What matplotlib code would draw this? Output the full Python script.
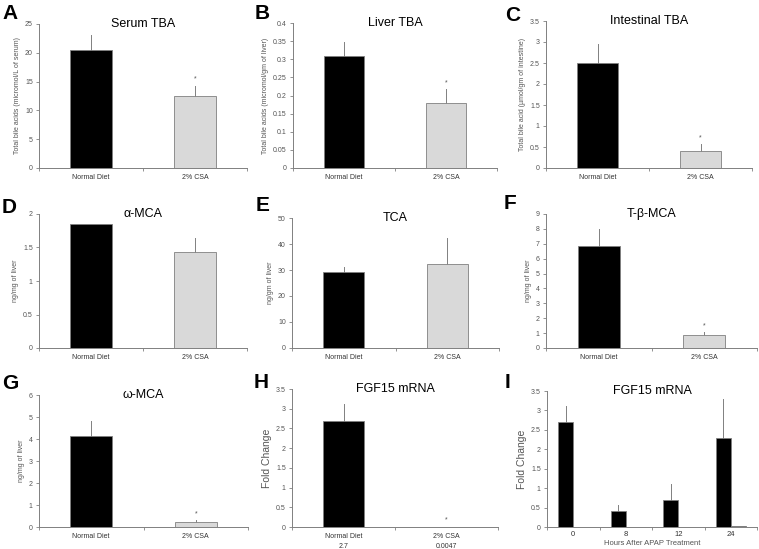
import matplotlib
matplotlib.use('Agg')
import matplotlib.pyplot as plt
import numpy as np

plt.rcParams['font.family'] = ['Liberation Sans', 'DejaVu Sans']

W, H = 759, 549
fig = plt.figure(figsize=(W / 100, H / 100), dpi=100)

groups = ['Normal Diet', '2% CSA']

serum_tba = [20.5, 12.5]
serum_err = [2.6, 1.8]
liver_tba = [0.31, 0.18]
liver_err = [0.037, 0.037]
intest_tba = [2.5, 0.4]
intest_err = [0.45, 0.16]
alpha_mca = [1.85, 1.44]
alpha_err = [0.0, 0.2]
tca = [29.2, 32.5]
tca_err = [1.8, 10.0]
tbeta_mca = [6.85, 0.9]
tbeta_err = [1.15, 0.2]
omega_mca = [4.12, 0.25]
omega_err = [0.68, 0.07]
fgf15 = [2.7, 0.0047]
fgf15_err = [0.41, 0.005]
fgf15_sub = ['2.7', '0.0047']

hours = ['0', '8', '12', '24']
fgf15_time = [2.7, 0.4, 0.7, 2.3]
fgf15_time_err = [0.42, 0.16, 0.4, 1.0]
fgf15_time_b = [0.01, 0.01, 0.01, 0.02]
fgf15_time_b_err = [0.0, 0.0, 0.0, 0.01]

BLACK = '#000000'
LIGHT = '#d9d9d9'
EDGE = '#808080'
TXT = '#555555'


def px_axes(l, r, t, b):
    return fig.add_axes([l / W, 1 - b / H, (r - l) / W, (b - t) / H])


def style(ax, ncat, ylim, yticks, fmt='%g'):
    ax.set_xlim(0, ncat)
    ax.set_ylim(*ylim)
    for s in ['top', 'right']:
        ax.spines[s].set_visible(False)
    for s in ['left', 'bottom']:
        ax.spines[s].set_color(EDGE)
        ax.spines[s].set_linewidth(0.7)
    ax.set_yticks(yticks)
    ax.set_yticklabels([fmt % v for v in yticks], fontsize=5, color=TXT)
    ax.set_xticks(np.arange(ncat + 1))
    ax.set_xticklabels([])
    ax.tick_params(axis='both', which='major', length=2.5, width=0.6, color=EDGE, pad=2)
    ax.set_xticks(np.arange(ncat) + 0.5, minor=True)
    ax.tick_params(axis='x', which='minor', length=0, pad=4)


def letter(x, y, s):
    fig.text(x / W, 1 - y / H, s, fontsize=15, fontweight='bold', ha='left', va='top')


def two_bar_panel(box, let, lxy, title, vals, errs, stars, ylim, yticks, ylabel,
                  ylfs=5, sub=None):
    ax = px_axes(*box)
    x = np.arange(len(vals)) + 0.5
    ax.bar(x, vals, width=0.4, color=[BLACK, LIGHT], edgecolor=EDGE, linewidth=0.6, zorder=2)
    for xi, v, e in zip(x, vals, errs):
        if e > 0:
            ax.plot([xi, xi], [v, v + e], color=EDGE, lw=0.7, zorder=1)
    for xi, v, e, st in zip(x, vals, errs, stars):
        if st:
            ax.text(xi, v + e + (ylim[1] - ylim[0]) * 0.02, '*', ha='center', va='bottom',
                    fontsize=5, color=TXT)
    style(ax, len(vals), ylim, yticks)
    if sub is None:
        ax.set_xticklabels(groups, minor=True, fontsize=5, color='#333333')
    else:
        ax.set_xticklabels([g + '\n' + s for g, s in zip(groups, sub)], minor=True,
                           fontsize=5, color='#333333', linespacing=1.6)
    ax.set_ylabel(ylabel, fontsize=ylfs, color=TXT, labelpad=3)
    ax.text(0.5, 1.0, title, transform=ax.transAxes, ha='center', va='center',
            fontsize=9, color='#000000')
    letter(lxy[0], lxy[1], let)
    return ax


two_bar_panel((39, 247, 24, 168), 'A', (2, 4), 'Serum TBA', serum_tba, serum_err,
              [False, True], (0, 25), [0, 5, 10, 15, 20, 25],
              'Total bile acids (micromol/L of serum)')
two_bar_panel((293, 497, 23, 168), 'B', (255, 4), 'Liver TBA', liver_tba, liver_err,
              [False, True], (0, 0.4), [0, 0.05, 0.1, 0.15, 0.2, 0.25, 0.3, 0.35, 0.4],
              'Total bile acids (micromol/gm of liver)')
two_bar_panel((546, 752, 21, 168), 'C', (505, 6), 'Intestinal TBA', intest_tba, intest_err,
              [False, True], (0, 3.5), [0, 0.5, 1, 1.5, 2, 2.5, 3, 3.5],
              'Total bile acid (µmol/gm of intestine)')
two_bar_panel((39, 247, 214, 348), 'D', (2, 198), 'α-MCA', alpha_mca, alpha_err,
              [False, False], (0, 2), [0, 0.5, 1, 1.5, 2], 'ng/mg of liver')
two_bar_panel((292, 499, 218, 348), 'E', (256, 196), 'TCA', tca, tca_err,
              [False, False], (0, 50), [0, 10, 20, 30, 40, 50], 'ng/gm of liver')
two_bar_panel((546, 757, 214, 348), 'F', (504, 194), 'T-β-MCA', tbeta_mca, tbeta_err,
              [False, True], (0, 9), list(range(10)), 'ng/mg of liver')
two_bar_panel((39, 248, 395, 527), 'G', (2, 374), 'ω-MCA', omega_mca, omega_err,
              [False, True], (0, 6), list(range(7)), 'ng/mg of liver')
two_bar_panel((292, 498, 389, 527), 'H', (254, 373), 'FGF15 mRNA', fgf15, fgf15_err,
              [False, True], (0, 3.5), [0, 0.5, 1, 1.5, 2, 2.5, 3, 3.5], 'Fold Change',
              ylfs=7.5, sub=fgf15_sub)

# Panel I
axI = px_axes(547, 757, 391, 527)
xc = np.arange(len(hours)) + 0.5
bw = 0.29
axI.bar(xc - bw / 2, fgf15_time, width=bw, color=BLACK, edgecolor=EDGE, linewidth=0.6, zorder=2)
axI.bar(xc + bw / 2, fgf15_time_b, width=bw, color=BLACK, edgecolor=EDGE, linewidth=0.6, zorder=2)
for xi, v, e in zip(xc - bw / 2, fgf15_time, fgf15_time_err):
    axI.plot([xi, xi], [v, v + e], color=EDGE, lw=0.7, zorder=1)
for xi, v, e in zip(xc + bw / 2, fgf15_time_b, fgf15_time_b_err):
    if e > 0:
        axI.plot([xi, xi], [v, v + e], color=EDGE, lw=0.7, zorder=1)
style(axI, len(hours), (0, 3.5), [0, 0.5, 1, 1.5, 2, 2.5, 3, 3.5])
axI.set_xticklabels(hours, minor=True, fontsize=5.5, color='#333333')
axI.tick_params(axis='x', which='minor', pad=3)
axI.set_xlabel('Hours After APAP Treatment', fontsize=5.5, color=TXT, labelpad=1)
axI.set_ylabel('Fold Change', fontsize=7.5, color=TXT, labelpad=3)
axI.text(0.5, 1.0, 'FGF15 mRNA', transform=axI.transAxes, ha='center', va='center',
         fontsize=9, color='#000000')
letter(505, 373, 'I')

fig.savefig('out.png', dpi=100)
